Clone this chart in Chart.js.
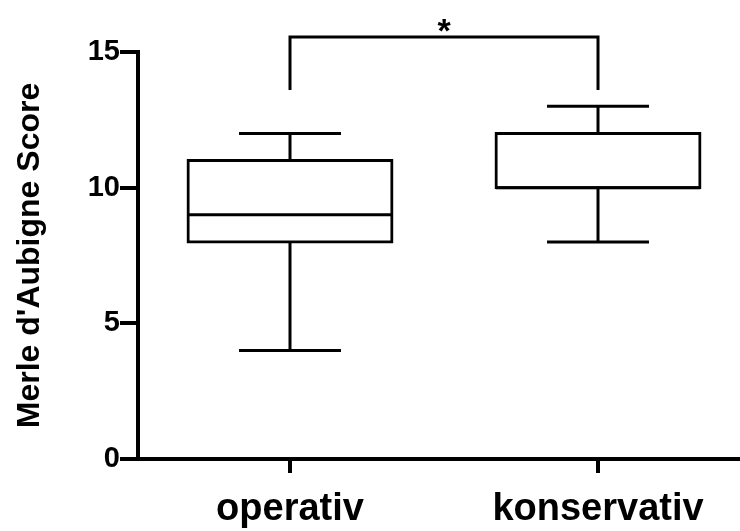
<!DOCTYPE html>
<html>
<head>
<meta charset="utf-8">
<script src="https://cdn.jsdelivr.net/npm/chart.js@4"></script>
<style>
  body { margin: 0; background: #fff; }
  #wrap { width: 740px; height: 531px; }
</style>
</head>
<body>
<div id="wrap"><canvas id="boxChart"></canvas></div>
<script>
// data
const categories = ['operativ', 'konservativ'];
const positions = [1, 2];
const minValues = [4, 8];
const q1Values = [8, 10];
const medianValues = [9, 10];
const q3Values = [11, 12];
const maxValues = [12, 13];
const yTicks = [0, 5, 10, 15];
// significance bracket between the two groups
const sigBracketTop = 15.55;
const sigBracketBottom = 13.6;
const sigLabel = '*';

const FONT = "'Liberation Sans', Arial, sans-serif";

// whiskers, median lines and the significance bracket
const boxPlotExtras = {
    id: 'boxPlotExtras',
    afterDatasetsDraw(chart) {
        const ctx = chart.ctx;
        const xs = chart.scales.x;
        const ys = chart.scales.y;
        const meta = chart.getDatasetMeta(0);

        const line = (x1, y1, x2, y2) => {
            ctx.beginPath();
            ctx.moveTo(x1, y1);
            ctx.lineTo(x2, y2);
            ctx.stroke();
        };

        ctx.save();
        ctx.strokeStyle = '#000';
        ctx.lineWidth = 3;
        ctx.lineCap = 'butt';

        meta.data.forEach((bar, i) => {
            const cx = bar.x;
            const half = bar.width / 2;
            const cap = bar.width / 4;
            const pMin = ys.getPixelForValue(minValues[i]);
            const pQ1 = ys.getPixelForValue(q1Values[i]);
            const pMed = ys.getPixelForValue(medianValues[i]);
            const pQ3 = ys.getPixelForValue(q3Values[i]);
            const pMax = ys.getPixelForValue(maxValues[i]);

            line(cx, pQ1, cx, pMin);
            line(cx - cap, pMin, cx + cap, pMin);
            line(cx, pQ3, cx, pMax);
            line(cx - cap, pMax, cx + cap, pMax);
            line(cx - half, pMed, cx + half, pMed);
        });

        // bracket
        const xa = xs.getPixelForValue(positions[0]);
        const xb = xs.getPixelForValue(positions[1]);
        const yTop = ys.getPixelForValue(sigBracketTop);
        const yBot = ys.getPixelForValue(sigBracketBottom);
        ctx.lineJoin = 'miter';
        ctx.beginPath();
        ctx.moveTo(xa, yBot);
        ctx.lineTo(xa, yTop);
        ctx.lineTo(xb, yTop);
        ctx.lineTo(xb, yBot);
        ctx.stroke();

        ctx.fillStyle = '#000';
        ctx.font = 'bold 34px ' + FONT;
        ctx.textAlign = 'center';
        ctx.textBaseline = 'alphabetic';
        ctx.fillText(sigLabel, (xa + xb) / 2, yTop + 5);
        ctx.restore();
    }
};

const ctx = document.getElementById('boxChart').getContext('2d');
new Chart(ctx, {
    type: 'bar',
    data: {
        datasets: [{
            label: 'IQR',
            data: positions.map((p, i) => ({ x: p, y: [q1Values[i], q3Values[i]] })),
            backgroundColor: '#fff',
            borderColor: '#000',
            borderWidth: 3,
            borderSkipped: false,
            inflateAmount: 1.5,
            categoryPercentage: 1,
            barPercentage: 0.662
        }]
    },
    options: {
        responsive: true,
        maintainAspectRatio: false,
        animation: false,
        layout: { padding: { top: 52, left: 0, right: 0, bottom: 0 } },
        plugins: {
            legend: { display: false },
            tooltip: { enabled: false }
        },
        scales: {
            x: {
                type: 'linear',
                offset: false,
                min: 0.5065,
                max: 2.461,
                afterBuildTicks: scale => {
                    scale.ticks = positions.map(v => ({ value: v }));
                },
                afterFit: scale => { scale.height = 72; },
                grid: {
                    offset: false,
                    drawOnChartArea: false,
                    tickLength: 14,
                    lineWidth: 4,
                    color: '#000'
                },
                border: { display: true, color: '#000', width: 4 },
                ticks: {
                    padding: 14,
                    color: '#000',
                    font: { family: FONT, size: 38, weight: 'bold' },
                    callback: v => categories[positions.indexOf(v)] || ''
                }
            },
            y: {
                min: 0,
                max: 15,
                afterBuildTicks: scale => {
                    scale.ticks = yTicks.map(v => ({ value: v }));
                },
                afterFit: scale => { scale.width = 138; },
                grid: {
                    drawOnChartArea: false,
                    tickLength: 18,
                    lineWidth: 4,
                    color: '#000'
                },
                border: { display: true, color: '#000', width: 4 },
                ticks: {
                    padding: 0,
                    color: '#000',
                    font: { family: FONT, size: 29, weight: 'bold' }
                },
                title: {
                    display: true,
                    text: "Merle d'Aubigne Score",
                    color: '#000',
                    font: { family: FONT, size: 32, weight: 'bold' },
                    padding: { top: 11, bottom: 0 }
                }
            }
        }
    },
    plugins: [boxPlotExtras]
});
</script>
</body>
</html>
